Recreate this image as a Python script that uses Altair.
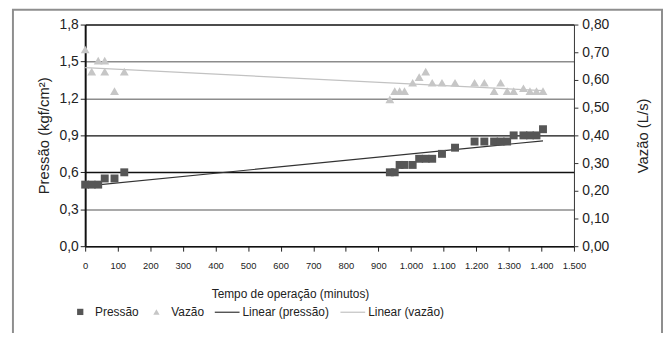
import altair as alt
import pandas as pd

# ---- data ----
tempo_pressao = [0, 20, 40, 60, 90, 120,
                 935, 950, 965, 980, 1005, 1025, 1045, 1065, 1095, 1135,
                 1195, 1225, 1255, 1275, 1295, 1315, 1345, 1365, 1385, 1405]
pressao = [0.50, 0.50, 0.50, 0.55, 0.55, 0.60,
           0.60, 0.60, 0.66, 0.66, 0.66, 0.71, 0.71, 0.71, 0.75, 0.80,
           0.85, 0.85, 0.85, 0.85, 0.85, 0.90, 0.90, 0.90, 0.90, 0.95]

tempo_vazao = [0, 20, 40, 60, 60, 90, 120,
               935, 950, 965, 980, 1005, 1025, 1045, 1065, 1095, 1135,
               1195, 1225, 1255, 1275, 1295, 1315, 1345, 1365, 1385, 1405]
vazao = [0.71, 0.63, 0.67, 0.67, 0.63, 0.56, 0.63,
         0.53, 0.56, 0.56, 0.56, 0.59, 0.61, 0.63, 0.59, 0.59, 0.59,
         0.59, 0.59, 0.56, 0.59, 0.56, 0.56, 0.57, 0.56, 0.56, 0.56]

point_series = ["Pressão", "Vazão"]
point_colors = ["#565656", "#c6c6c6"]
point_shapes = ["square", "triangle-up"]
line_series = ["Linear (pressão)", "Linear (vazão)"]
line_colors = ["#333333", "#c2c2c2"]

x_ticks = list(range(0, 1501, 100))
y_left_ticks = [0.0, 0.3, 0.6, 0.9, 1.2, 1.5, 1.8]
y_right_ticks = [0.0, 0.1, 0.2, 0.3, 0.4, 0.5, 0.6, 0.7, 0.8]

df_p = pd.DataFrame({"tempo": tempo_pressao, "valor": pressao, "serie": point_series[0]})
df_v = pd.DataFrame({"tempo": tempo_vazao, "valor": vazao, "serie": point_series[1]})

FONT = "Liberation Sans"
TXT = "#222222"

x_enc = alt.X(
    "tempo:Q",
    scale=alt.Scale(domain=[0, 1500], nice=False),
    axis=alt.Axis(
        values=x_ticks,
        labelExpr="replace(format(datum.value, ','), ',', '.')",
        labelOverlap=False,
        labelFlush=False,
        title="Tempo de operação (minutos)",
        titleX=207,
        grid=False,
        labelFontSize=9.5,
        labelFont=FONT,
        labelColor=TXT,
        labelPadding=10,
        tickSize=5,
        tickColor="#222222",
        domainColor="#111111",
        domainWidth=1.5,
        titleFont=FONT,
        titleFontSize=12,
        titleFontWeight="normal",
        titleColor=TXT,
        titlePadding=18,
    ),
)

grid_color = {
    "condition": {
        "test": "abs(datum.value - 0.9) < 0.01 || abs(datum.value - 0.6) < 0.01 || abs(datum.value - 1.8) < 0.01",
        "value": "#111111",
    },
    "value": "#8c8c8c",
}

left_axis = alt.Axis(
    values=y_left_ticks,
    labelExpr="replace(format(datum.value, '.1f'), '.', ',')",
    title="Pressão (kgf/cm²)",
    grid=True,
    gridColor=grid_color,
    gridWidth=1.5,
    labelFontSize=14,
    labelFont=FONT,
    labelColor=TXT,
    labelPadding=2,
    tickSize=5,
    tickColor="#222222",
    domainColor="#111111",
    domainWidth=2,
    titleFont=FONT,
    titleFontSize=15,
    titleFontWeight="normal",
    titleColor=TXT,
    titlePadding=8,
)

right_axis = alt.Axis(
    orient="right",
    values=y_right_ticks,
    labelExpr="replace(format(datum.value, '.2f'), '.', ',')",
    title="Vazão (L/s)",
    titleAngle=270,
    grid=False,
    labelFontSize=14,
    labelFont=FONT,
    labelColor=TXT,
    labelPadding=4,
    tickSize=4,
    tickColor="#333333",
    domainColor="#333333",
    domainWidth=1,
    titleFont=FONT,
    titleFontSize=15,
    titleFontWeight="normal",
    titleColor=TXT,
    titlePadding=42,
)

point_legend = alt.Legend(
    orient="none",
    legendX=-11,
    legendY=284,
    direction="horizontal",
    symbolSize=40,
    symbolOpacity=1,
    labelFont=FONT,
    labelFontSize=12,
    labelColor=TXT,
    labelOffset=9,
    columnPadding=10,
    title=None,
)
line_legend = alt.Legend(
    orient="none",
    legendX=130,
    legendY=277,
    direction="horizontal",
    symbolSize=625,
    symbolStrokeWidth=1.2,
    symbolOpacity=1,
    labelFont=FONT,
    labelFontSize=12,
    labelColor=TXT,
    labelOffset=2,
    columnPadding=8,
    title=None,
)

fill_enc = alt.Fill(
    "serie:N",
    scale=alt.Scale(domain=point_series, range=point_colors),
    legend=point_legend,
)
shape_enc = alt.Shape(
    "serie:N",
    scale=alt.Scale(domain=point_series, range=point_shapes),
    legend=point_legend,
)
stroke_enc = alt.Stroke(
    "linha:N",
    scale=alt.Scale(domain=line_series, range=line_colors),
    legend=line_legend,
)

y_left = alt.Y("valor:Q", scale=alt.Scale(domain=[0, 1.8], nice=False), axis=left_axis)
y_right = alt.Y("valor:Q", scale=alt.Scale(domain=[0, 0.8], nice=False), axis=right_axis)

pts_p = alt.Chart(df_p).mark_point(filled=True, size=64, opacity=1, strokeWidth=0).encode(
    x=x_enc, y=y_left, fill=fill_enc, shape=shape_enc
)
lin_p = (
    alt.Chart(df_p)
    .transform_regression("tempo", "valor")
    .transform_calculate(linha="'Linear (pressão)'")
    .mark_line(strokeWidth=1.2)
    .encode(x=x_enc, y=y_left, stroke=stroke_enc)
)

pts_v = alt.Chart(df_v).mark_point(filled=True, size=80, opacity=1, strokeWidth=0).encode(
    x=x_enc, y=y_right, fill=fill_enc, shape=shape_enc
)
lin_v = (
    alt.Chart(df_v)
    .transform_regression("tempo", "valor")
    .transform_calculate(linha="'Linear (vazão)'")
    .mark_line(strokeWidth=1.2)
    .encode(x=x_enc, y=y_right, stroke=stroke_enc)
)

left = alt.layer(lin_p, pts_p)
right = alt.layer(lin_v, pts_v)

frame = alt.Chart(alt.Data(values=[{}])).mark_rect(
    fill="transparent", stroke="#8e8e8e", strokeWidth=2, clip=False
).encode(
    x=alt.value(-73), x2=alt.value(583), y=alt.value(-15), y2=alt.value(330)
)

chart = (
    alt.layer(right, left, frame)
    .resolve_scale(y="independent")
    .properties(
        width=494,
        height=224,
        autosize=alt.AutoSizeParams(type="none"),
        padding={"left": 78, "top": 15, "right": 90, "bottom": 86},
        background="white",
    )
    .configure_view(strokeWidth=0)
)

chart.save("out.html", embed_options={"renderer": "svg", "actions": False})
